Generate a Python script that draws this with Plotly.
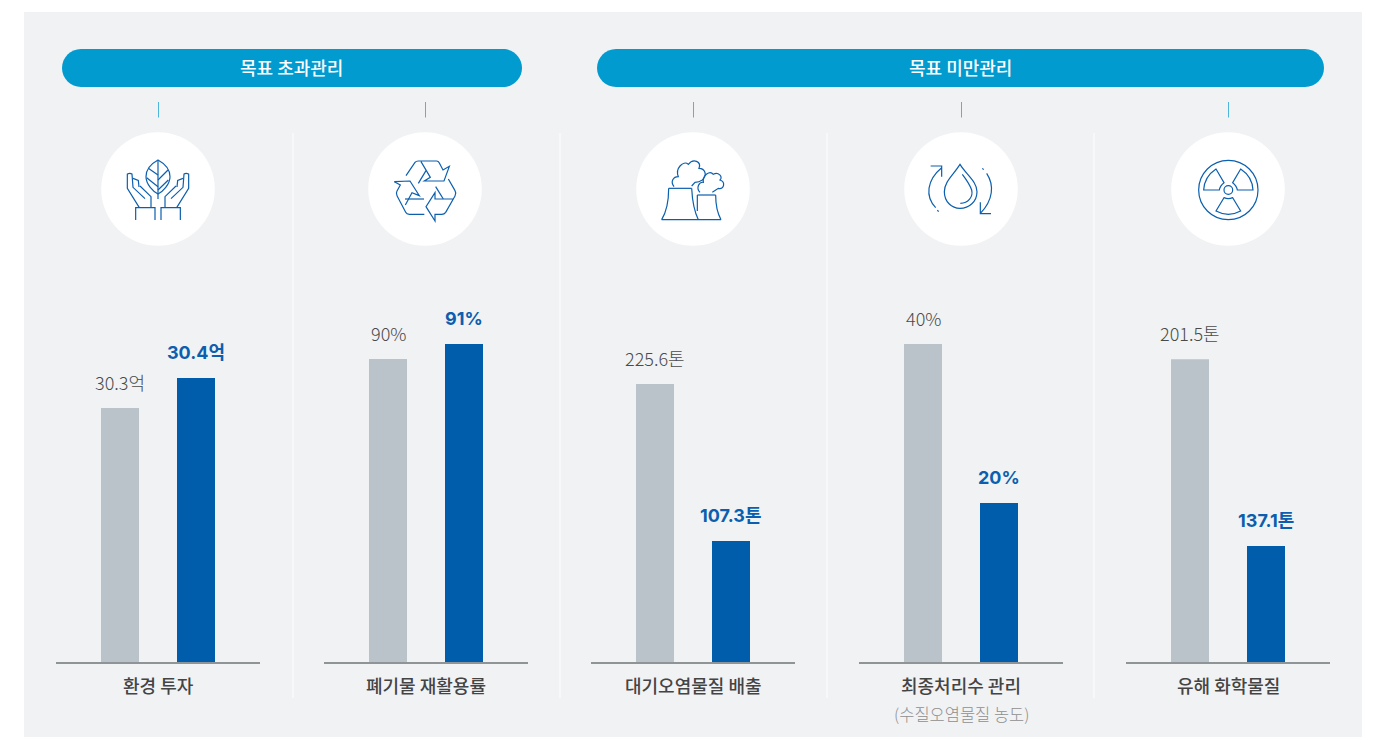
import re
import plotly.graph_objects as go

W, H = 1374, 737
FONT = "Noto Sans CJK KR"
FONT_BOLD = "Inter, Noto Sans CJK KR"

# ---- data ----
series_names = ["목표", "실적"]
panel_titles = ["환경 투자", "폐기물 재활용률", "대기오염물질 배출", "최종처리수 관리", "유해 화학물질"]
target_values = [30.3, 90, 225.6, 40, 201.5]
actual_values = [30.4, 91, 107.3, 20, 137.1]
target_labels = ["30.3억", "90%", "225.6톤", "40%", "201.5톤"]
actual_labels = ["30.4억", "91%", "107.3톤", "20%", "137.1톤"]
group_labels = ["목표 초과관리", "목표 미만관리"]
sub_title = "(수질오염물질 농도)"

# value axis windows of each panel (the source's bars sit on truncated scales)
axis_floor = [29.453, 69.8, 16.1, 0.0, 97.1]
axis_ceil = [30.787, 96.47, 317.5, 50.3, 235.0]

# ---- layout (pixels in the page) ----
panel_left = [56, 324, 591, 859, 1126]
panel_width = 204
axis_base_y = 662
axis_top_y = 262
centres = [158, 425, 693, 961, 1228]
dividers = [293, 560, 827, 1094]

GREY, BLUE, LINE = "#bac3c9", "#005dab", "#8f9497"
ICON = "#0b5fae"


def fx(x):
    return x / W


def fy(y):
    return 1 - y / H


def to_paper(path, ox=0.0, oy=0.0, s=1.0):
    """Convert an SVG path in page pixels to paper coordinates."""
    toks = re.findall(r"[A-Za-z]|-?\d+\.?\d*", path)
    s_out, coord = "", 0
    for t in toks:
        if t.isalpha():
            s_out += " " + t
            coord = 0
        else:
            v = float(t)
            if coord % 2 == 0:
                s_out += f" {fx(ox + v * s):.5f}"
            else:
                s_out += f",{fy(oy + v * s):.5f}"
            coord += 1
    return s_out.strip()


shapes = []


def rect(x0, y0, x1, y1, color, layer="below"):
    shapes.append(dict(type="rect", xref="paper", yref="paper", x0=fx(x0), x1=fx(x1), y0=fy(y0), y1=fy(y1),
                       fillcolor=color, line_width=0, layer=layer))


def line(x0, y0, x1, y1, color, width):
    shapes.append(dict(type="line", xref="paper", yref="paper", x0=fx(x0), x1=fx(x1), y0=fy(y0), y1=fy(y1),
                       line=dict(color=color, width=width), layer="below"))


def circle(cx, cy, r, fill=None, color=None, width=0, layer="below"):
    shapes.append(dict(type="circle", xref="paper", yref="paper", x0=fx(cx - r), x1=fx(cx + r), y0=fy(cy - r),
                       y1=fy(cy + r), fillcolor=fill if fill else "rgba(0,0,0,0)",
                       line=dict(color=color if color else "rgba(0,0,0,0)", width=width), layer=layer))


def pill(x0, x1, y0, y1, color):
    r = (y1 - y0) / 2
    p = (f"M{x0 + r} {y0} L{x1 - r} {y0} C{x1 - r * .45} {y0} {x1} {y0 + r * .45} {x1} {y0 + r} "
         f"C{x1} {y1 - r * .45} {x1 - r * .45} {y1} {x1 - r} {y1} L{x0 + r} {y1} "
         f"C{x0 + r * .45} {y1} {x0} {y1 - r * .45} {x0} {y0 + r} C{x0} {y0 + r * .45} {x0 + r * .45} {y0} {x0 + r} {y0} Z")
    shapes.append(dict(type="path", xref="paper", yref="paper", path=to_paper(p), fillcolor=color, line_width=0,
                       layer="below"))


def icon(paths, ox, oy):
    for p in paths:
        shapes.append(dict(type="path", xref="paper", yref="paper", path=to_paper(p, ox, oy, 1 / 3),
                           line=dict(color=ICON, width=1.2), fillcolor="rgba(0,0,0,0)", layer="above"))


rect(24, 12, 1362, 737, "#f1f2f4")
pill(62, 522, 49, 87, "#019bd0")
pill(597, 1324, 49, 87, "#019bd0")
for c in centres:
    line(c + 0.5, 102, c + 0.5, 117.5, "#4fb6d9", 1)
    circle(c, 189, 56.8, fill="#ffffff")
for d in dividers:
    line(d, 133, d, 698, "#f7f8f9", 2)

# Icons: coordinates are in the 3x zoom of the reference crop
leaf_hand_left = "M148 248 L112 190 L112 147 Q120 143 126 147 L129 187 L165 221"
leaf_hand_left2 = "M129 160 L145 166 L147 186"
leaf_hand_left3 = "M150 183 L183 215 L183 248"
cuff_left = "M137 285 L137 248 L195 248 L195 285"


def mirror(path, axis=408):
    toks = re.findall(r"[A-Za-z]|-?\d+\.?\d*", path)
    out, is_x = [], True
    for t in toks:
        if t.isalpha():
            out.append(t)
            is_x = True
        else:
            out.append(str(axis - float(t)) if is_x else t)
            is_x = not is_x
    return " ".join(out)


icon([
    "M204 105 C180 118 168 135 168 155 C168 178 190 200 204 207 C218 200 240 178 240 155 C240 135 228 118 204 105 Z",
    "M204 105 L204 222", "M175 130 L204 150", "M170 158 L204 185", "M204 165 L234 135", "M204 195 L235 165",
    leaf_hand_left, leaf_hand_left2, leaf_hand_left3, cuff_left,
    mirror(leaf_hand_left), mirror(leaf_hand_left2), mirror(leaf_hand_left3), mirror(cuff_left),
], 90, 125)

icon([
    "M948 152 L975 112 Q978 108 985 108 L1040 108 Q1045 108 1048 114 L1059 135 L1078 124 L1062 168 L1003 168 L1021 157 L993 110",
    "M985 175 L1008 137",
    "M913 170 L960 168 L988 212 L966 203 L946 240",
    "M913 170 L931 180 L921 198 Q917 205 921 212 L947 262 Q950 268 958 268 L1003 268",
    "M945 222 L1002 222",
    "M1075 162 L1095 197 Q1100 205 1095 213 L1067 262 Q1063 268 1055 268 L1035 268 L1035 288 L1008 245 L1035 203 L1035 222 L1090 222",
    "M1037 185 L1060 222",
], 90, 125)

icon([
    "M110 284 L288 284",
    "M131 190 L200 190",
    "M131 190 Q131 250 110 284",
    "M200 190 Q203 250 220 284",
    "M217 210 L272 210",
    "M217 210 L217 258",
    "M272 210 Q272 255 288 284",
    "M147 185 C135 170 145 155 160 155 C150 130 175 105 190 118 C205 98 230 110 222 130 C240 130 248 150 232 165 C225 170 215 172 210 172 L200 183",
    "M225 202 C212 190 222 170 235 172 C232 150 255 135 265 148 C280 140 295 155 285 165 C302 170 298 195 280 190 L262 202",
], 625, 125)

icon([
    "M1005 118 C985 150 958 170 958 200 C958 230 980 250 1005 250 C1032 250 1056 230 1056 200 C1056 170 1025 150 1005 118 Z",
    "M1006 235 C1030 235 1045 215 1040 195 C1035 180 1025 165 1012 148",
    "M950 128 C905 165 900 215 932 248", "M937 255 L941 260", "M917 123 L950 123 L950 155",
    "M1085 145 C1108 180 1105 225 1066 265", "M1072 130 L1076 134", "M1066 232 L1066 266 L1098 266",
], 625, 125)

icon([
    "M131 195 Q133 155 168 132 L192 173 Q180 182 178 195 Z",
    "M279 195 Q277 155 242 132 L218 173 Q230 182 232 195 Z",
    "M168 258 Q205 278 242 258 L218 218 Q205 224 192 218 Z",
], 1160, 125)
circle(1160 + 205 / 3, 125 + 195 / 3, 89 / 3, color=ICON, width=1.2, layer="above")
circle(1160 + 205 / 3, 125 + 195 / 3, 13 / 3, color=ICON, width=1.2, layer="above")

# ---- traces and axes ----
fig = go.Figure()
annotations = []
layout_axes = {}

for i in range(5):
    n = "" if i == 0 else str(i + 1)
    fig.add_trace(go.Bar(
        x=series_names, y=[target_values[i], actual_values[i]],
        marker=dict(color=[GREY, BLUE], line_width=0), width=0.5,
        xaxis=f"x{n}", yaxis=f"y{n}", showlegend=False, hoverinfo="x+y",
    ))
    layout_axes[f"xaxis{n}"] = dict(
        domain=[fx(panel_left[i]), fx(panel_left[i] + panel_width)],
        type="category", categoryorder="array", categoryarray=series_names,
        range=[-0.842, 1.842], anchor=f"y{n}",
        showticklabels=False, ticks="", showgrid=False, zeroline=False,
        showline=True, linecolor=LINE, linewidth=2,
    )
    layout_axes[f"yaxis{n}"] = dict(
        domain=[fy(axis_base_y), fy(axis_top_y)], range=[axis_floor[i], axis_ceil[i]], anchor=f"x{n}",
        visible=False, showgrid=False, zeroline=False,
    )
    annotations.append(dict(
        x=series_names[0], y=target_values[i], xref=f"x{n}", yref=f"y{n}", text=target_labels[i],
        showarrow=False, yanchor="bottom", xanchor="center", yshift=11,
        font=dict(family=FONT, size=18, color="#4a4a4a", weight=300),
    ))
    annotations.append(dict(
        x=series_names[1], y=actual_values[i], xref=f"x{n}", yref=f"y{n}", text=f"<b>{actual_labels[i]}</b>",
        showarrow=False, yanchor="bottom", xanchor="center", yshift=13,
        font=dict(family=FONT_BOLD, size=18, color="#0b5fae"),
    ))
    annotations.append(dict(
        x=0.5, xref=f"x{n} domain", y=fy(685), yref="paper", text=panel_titles[i],
        showarrow=False, yanchor="middle", xanchor="center",
        font=dict(family=FONT, size=18, color="#444444", weight=500),
    ))

annotations.append(dict(x=fx(961), y=fy(714), xref="paper", yref="paper", text=sub_title, showarrow=False,
                        yanchor="middle", xanchor="center", font=dict(family=FONT, size=16.5, color="#8f8f8f", weight=300)))
annotations.append(dict(x=fx(291.5), y=fy(67.5), xref="paper", yref="paper", text=group_labels[0], showarrow=False,
                        yanchor="middle", xanchor="center", font=dict(family=FONT, size=18, color="#ffffff", weight=500)))
annotations.append(dict(x=fx(960), y=fy(67.5), xref="paper", yref="paper", text=group_labels[1], showarrow=False,
                        yanchor="middle", xanchor="center", font=dict(family=FONT, size=18, color="#ffffff", weight=500)))

fig.update_layout(
    width=W, height=H, margin=dict(l=0, r=0, t=0, b=0), autosize=False,
    paper_bgcolor="#ffffff", plot_bgcolor="rgba(0,0,0,0)",
    font=dict(family=FONT), shapes=shapes, annotations=annotations, showlegend=False,
    **layout_axes,
)

fig.write_html("out.html", config={"displayModeBar": False},
               post_script="document.body.style.margin='0';document.documentElement.style.overflow='hidden';")
